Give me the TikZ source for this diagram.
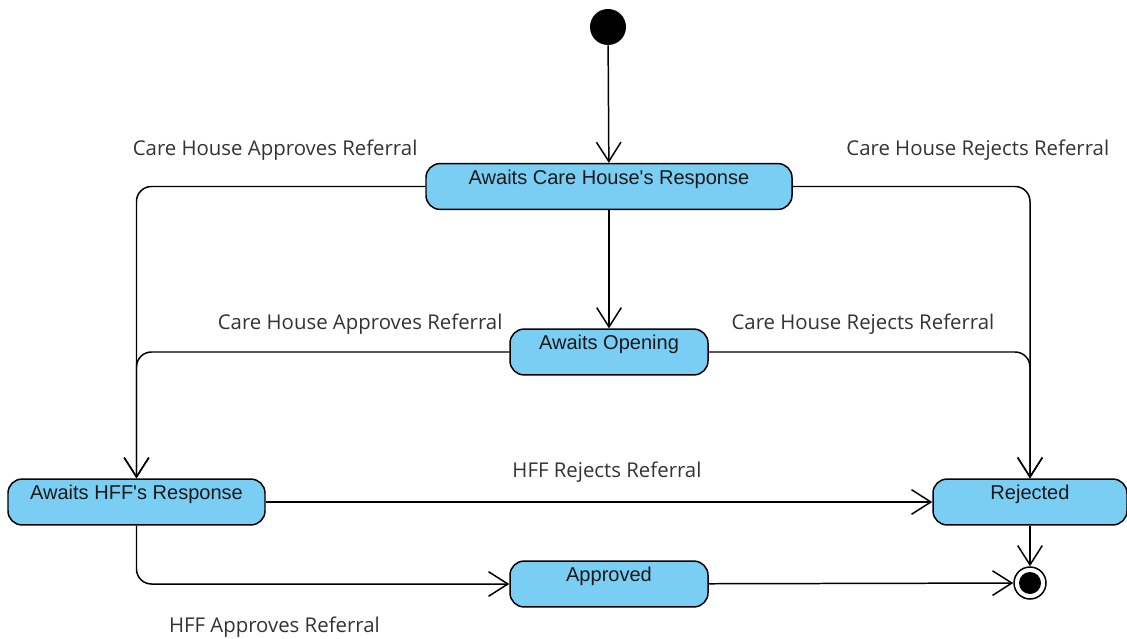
\documentclass[tikz,border=0pt]{standalone}
\usepackage{fontspec}
\setmainfont{Liberation Sans}
\newfontfamily\lblfont{Open Sans}
\usetikzlibrary{positioning, arrows.meta}
\definecolor{statefill}{RGB}{122,206,244}
\definecolor{lblgrey}{RGB}{51,51,51}

\begin{document}
\begin{tikzpicture}[
    x=0.02cm, y=-0.02cm,
    state/.style={draw, fill=statefill, line width=0.85pt, rectangle, rounded corners=8pt,
        inner xsep=0pt, inner ysep=0pt, text height=11.9pt, text depth=14.2pt,
        font=\fontsize{11.4}{13}\selectfont, text=black!90},
    lbl/.style={font=\lblfont\fontsize{11.6}{13}\selectfont, text=lblgrey},
    arrow/.style={-{Straight Barb[length=11pt, width=14pt, line width=0.85pt]}, line width=0.85pt, rounded corners=8.5pt}
]
\useasboundingbox (0,0) rectangle (1127,639);

% Initial state
\node[circle, fill=black, minimum size=36*0.02cm, inner sep=0pt] (start) at (608,27) {};

% States
\node[state, minimum width=366*0.02cm] (careresp) at (609,186.5) {Awaits Care House\textquotesingle s Response};
\node[state, minimum width=198*0.02cm] (opening) at (609,352) {Awaits Opening};
\node[state, minimum width=257*0.02cm] (hffresp) at (136.5,502) {Awaits HFF\textquotesingle s Response};
\node[state, minimum width=194*0.02cm] (rejected) at (1030,502) {Rejected};
\node[state, minimum width=198*0.02cm] (approved) at (609,584) {Approved};

% Final state
\node[circle, draw, fill=white, line width=0.85pt, minimum size=32*0.02cm, inner sep=0pt] (final) at (1030,583) {};
\node[circle, fill=black, minimum size=22*0.02cm, inner sep=0pt] (finaldot) at (final) {};

% Arrows
\draw[arrow] (start) -- (careresp);
\draw[arrow] (careresp) -- (opening);
\draw[arrow] (careresp.west) -| node[lbl, pos=0.26, yshift=0.72cm] {Care House Approves Referral} (hffresp.north);
\draw[arrow] (careresp.east) -| node[lbl, pos=0.39, yshift=0.72cm] {Care House Rejects Referral} (rejected.north);
\draw[arrow] (opening.west) -| node[lbl, pos=0.2, yshift=0.56cm] {Care House Approves Referral} (hffresp.north);
\draw[arrow] (opening.east) -| node[lbl, pos=0.24, yshift=0.56cm] {Care House Rejects Referral} (rejected.north);
\draw[arrow] (hffresp) -- node[lbl, pos=0.512, yshift=0.6cm] {HFF Rejects Referral} (rejected);
\draw[arrow] (hffresp.south) |- node[lbl, pos=0.685, yshift=-0.86cm] {HFF Approves Referral} (approved.west);
\draw[arrow] (approved) -- (final);
\draw[arrow] (rejected) -- (final);

\end{tikzpicture}
\end{document}
